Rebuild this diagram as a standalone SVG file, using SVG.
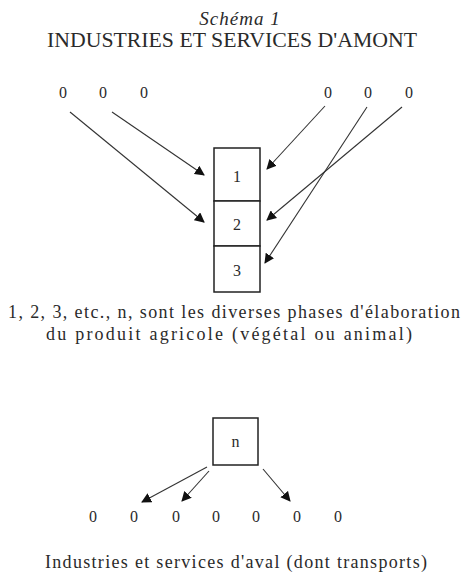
<svg xmlns="http://www.w3.org/2000/svg" width="467" height="575" viewBox="0 0 467 575">
<style>
text{font-family:"Liberation Serif","Times New Roman",serif;fill:#2a2a2a}
.z{font-size:16px;text-anchor:middle}
.box{fill:#fff;stroke:#222;stroke-width:1.5}
.c line{stroke:#333;stroke-width:1.1}
</style>
<defs>
<marker id="ah" viewBox="0 0 10 10" refX="9" refY="5" markerWidth="10" markerHeight="10" markerUnits="userSpaceOnUse" orient="auto">
<path d="M0,0 L10,5 L0,10 z" fill="#111"/>
</marker>
</defs>
<rect width="467" height="575" fill="#fff"/>
<g id="title">
<text x="240" y="25" font-size="19" font-style="italic" text-anchor="middle" letter-spacing="1">Schéma 1</text>
<text x="47" y="47" font-size="20" textLength="370" lengthAdjust="spacingAndGlyphs">INDUSTRIES ET SERVICES D'AMONT</text>
</g>
<g id="amont-left">
<text class="z" x="63" y="98">0</text>
<text class="z" x="103" y="98">0</text>
<text class="z" x="144" y="98">0</text>
</g>
<g id="amont-right">
<text class="z" x="328" y="98">0</text>
<text class="z" x="368" y="98">0</text>
<text class="z" x="409" y="98">0</text>
</g>
<g id="phase1">
<rect class="box" x="214" y="148" width="46" height="53"/>
<text class="z" x="237" y="182">1</text>
</g>
<g id="phase2">
<rect class="box" x="214" y="201" width="46" height="45"/>
<text class="z" x="237" y="230">2</text>
</g>
<g id="phase3">
<rect class="box" x="214" y="246" width="46" height="46"/>
<text class="z" x="237" y="276">3</text>
</g>
<g id="caption1">
<text x="8" y="318" font-size="18" textLength="452" lengthAdjust="spacing">1, 2, 3, etc., n, sont les diverses phases d'élaboration</text>
<text x="46" y="340" font-size="18" textLength="366" lengthAdjust="spacing">du produit agricole (végétal ou animal)</text>
</g>
<g id="phaseN">
<rect class="box" x="213" y="418" width="45" height="47"/>
<text class="z" x="235.5" y="447">n</text>
</g>
<g id="aval">
<text class="z" x="93" y="522">0</text>
<text class="z" x="134" y="522">0</text>
<text class="z" x="176" y="522">0</text>
<text class="z" x="216" y="522">0</text>
<text class="z" x="256" y="522">0</text>
<text class="z" x="297" y="522">0</text>
<text class="z" x="338" y="522">0</text>
</g>
<g id="caption2">
<text x="45" y="568" font-size="18" textLength="382" lengthAdjust="spacing">Industries et services d'aval (dont transports)</text>
</g>
<g class="c" id="connectors">
<line x1="70" y1="112" x2="204" y2="222" marker-end="url(#ah)"/>
<line x1="112" y1="112" x2="204" y2="175" marker-end="url(#ah)"/>
<line x1="325" y1="106" x2="267" y2="169" marker-end="url(#ah)"/>
<line x1="367" y1="107" x2="265" y2="263" marker-end="url(#ah)"/>
<line x1="402" y1="107" x2="267" y2="220" marker-end="url(#ah)"/>
<line x1="207" y1="467" x2="142" y2="502" marker-end="url(#ah)"/>
<line x1="209" y1="471" x2="182" y2="501" marker-end="url(#ah)"/>
<line x1="263" y1="469" x2="290" y2="501" marker-end="url(#ah)"/>
</g>
</svg>
